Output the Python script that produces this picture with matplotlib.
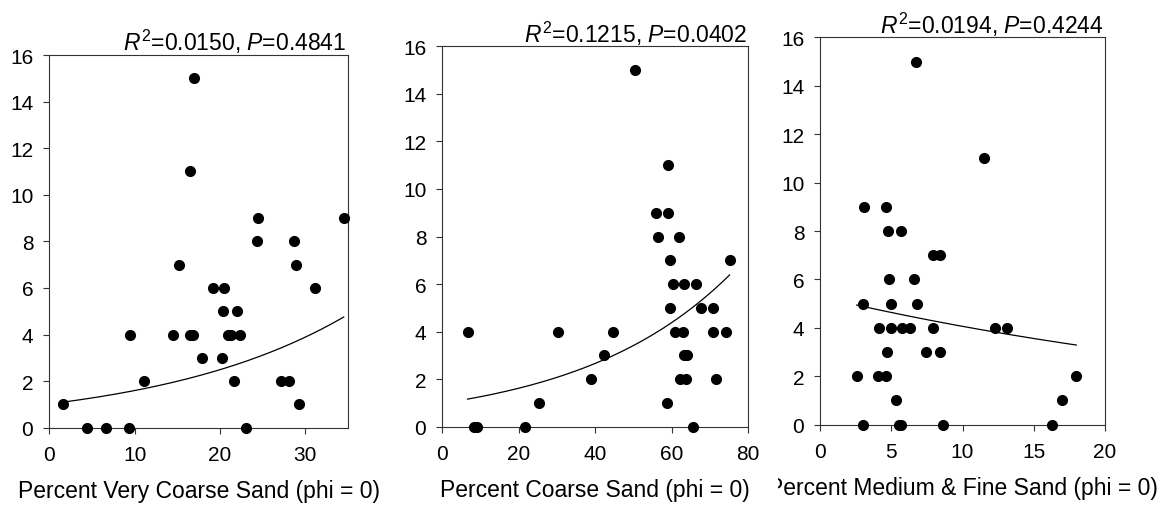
import numpy as np
import matplotlib
matplotlib.use("Agg")
import matplotlib.pyplot as plt
from matplotlib.transforms import Bbox, TransformedBbox

plt.rcParams['font.family'] = ['Liberation Sans', 'DejaVu Sans']
plt.rcParams['mathtext.fontset'] = 'custom'
plt.rcParams['mathtext.rm'] = 'Liberation Sans'
plt.rcParams['mathtext.it'] = 'Liberation Sans:italic'

# ---- Panel 1: Percent Very Coarse Sand ----
vcs_x = [1.65, 4.4, 6.6, 9.3, 9.5, 11.1, 14.5, 15.2, 16.5, 16.8, 17.9, 19.2, 20.2, 20.3,
         20.5, 20.9, 21.3, 21.6, 22.0, 22.3, 23.1, 27.1, 28.1, 28.9, 29.2, 31.1,
         17.0, 16.5, 24.5, 24.3, 28.7, 34.5]
vcs_y = [1, 0, 0, 0, 4, 2, 4, 7, 4, 4, 3, 6, 3, 5,
         6, 4, 4, 2, 5, 4, 0, 2, 2, 7, 1, 6,
         15, 11, 9, 8, 8, 9]
vcs_fit = (0.0218, 0.04454)   # log-linear fit: y = exp(a + b*x)
vcs_stats = r"$R^{2}$=0.0150, $P$=0.4841"

# ---- Panel 2: Percent Coarse Sand ----
cs_x = [6.6, 8.4, 9.2, 21.5, 25.3, 30.2, 39.0, 42.4, 44.7, 58.7, 59.6, 59.5, 60.3, 60.8,
        62.2, 62.9, 63.2, 63.2, 64.0, 63.8, 65.6, 66.2, 67.6, 70.7, 70.8, 71.6, 74.3, 75.1,
        50.3, 59.0, 55.9, 59.0, 56.4, 62.0]
cs_y = [4, 0, 0, 0, 1, 4, 2, 3, 4, 1, 7, 5, 6, 4,
        2, 4, 6, 3, 3, 2, 0, 6, 5, 5, 4, 2, 4, 7,
        15, 11, 9, 9, 8, 8]
cs_fit = (-0.0159, 0.02489)
cs_stats = r"$R^{2}$=0.1215, $P$=0.0402"

# ---- Panel 3: Percent Medium & Fine Sand ----
mfs_x = [2.56, 2.98, 3.0, 4.06, 4.1, 4.6, 4.67, 4.85, 4.95, 4.95, 5.35, 5.5, 5.67, 5.77,
         6.3, 6.6, 6.8, 7.4, 7.9, 7.95, 8.4, 8.4, 8.65, 12.3, 13.1, 16.3, 17.0, 18.0,
         6.7, 11.5, 3.05, 4.6, 4.74, 5.67]
mfs_y = [2, 5, 0, 2, 4, 2, 3, 6, 5, 4, 1, 0, 0, 4,
         4, 6, 5, 3, 4, 7, 7, 3, 0, 4, 4, 0, 1, 2,
         15, 11, 9, 9, 8, 8]
mfs_fit = (1.665, -0.02633)
mfs_stats = r"$R^{2}$=0.0194, $P$=0.4244"

xlabels = ["Percent Very Coarse Sand (phi = 0)",
           "Percent Coarse Sand (phi = 0)",
           "Percent Medium & Fine Sand (phi = 0)"]
xlims = [(0, 35), (0, 80), (0, 20)]
xticks = [[0, 10, 20, 30], [0, 20, 40, 60, 80], [0, 5, 10, 15, 20]]
yticks = [0, 2, 4, 6, 8, 10, 12, 14, 16]

W, H = 1162, 510
fig = plt.figure(figsize=(W / 100, H / 100), dpi=100)

# axes boxes in pixels: left, top, right, bottom
boxes = [(49.3, 56.0, 348.0, 428.7),
         (442.3, 47.3, 748.3, 427.7),
         (820.3, 38.3, 1104.7, 425.7)]

panels = [(vcs_x, vcs_y, vcs_fit, vcs_stats),
          (cs_x, cs_y, cs_fit, cs_stats),
          (mfs_x, mfs_y, mfs_fit, mfs_stats)]

for i, ((x, y, fit, stats), (l, t, r, b)) in enumerate(zip(panels, boxes)):
    ax = fig.add_axes([l / W, 1 - b / H, (r - l) / W, (b - t) / H])
    x = np.asarray(x, float)
    y = np.asarray(y, float)
    ax.plot(x, y, 'o', color='black', markersize=7, zorder=3, clip_on=False)
    xs = np.linspace(x.min(), x.max(), 200)
    ax.plot(xs, np.exp(fit[0] + fit[1] * xs), color='black', lw=0.9, zorder=2)
    ax.set_xlim(*xlims[i])
    ax.set_ylim(0, 16)
    ax.set_xticks(xticks[i])
    ax.set_yticks(yticks)
    ax.tick_params(direction='out', length=4.5, width=0.8, color='#333333',
                   labelsize=15, top=False, right=False)
    ax.tick_params(axis='x', pad=8)
    ax.tick_params(axis='y', pad=7)
    for sp in ax.spines.values():
        sp.set_linewidth(0.8)
        sp.set_color('#333333')
    lab = ax.set_xlabel(xlabels[i], fontsize=16.5, labelpad=11)
    if i == 2:
        clip = TransformedBbox(Bbox([[778 / W, 0], [1, 1]]), fig.transFigure)
        lab.set_clip_box(clip)
        lab.set_clip_on(True)
    ax.annotate(stats, xy=(1.0, 1.0), xycoords='axes fraction',
                xytext=(-1, 3.5), textcoords='offset points',
                ha='right', va='baseline', fontsize=16.5)

fig.savefig("out.png", dpi=100)
